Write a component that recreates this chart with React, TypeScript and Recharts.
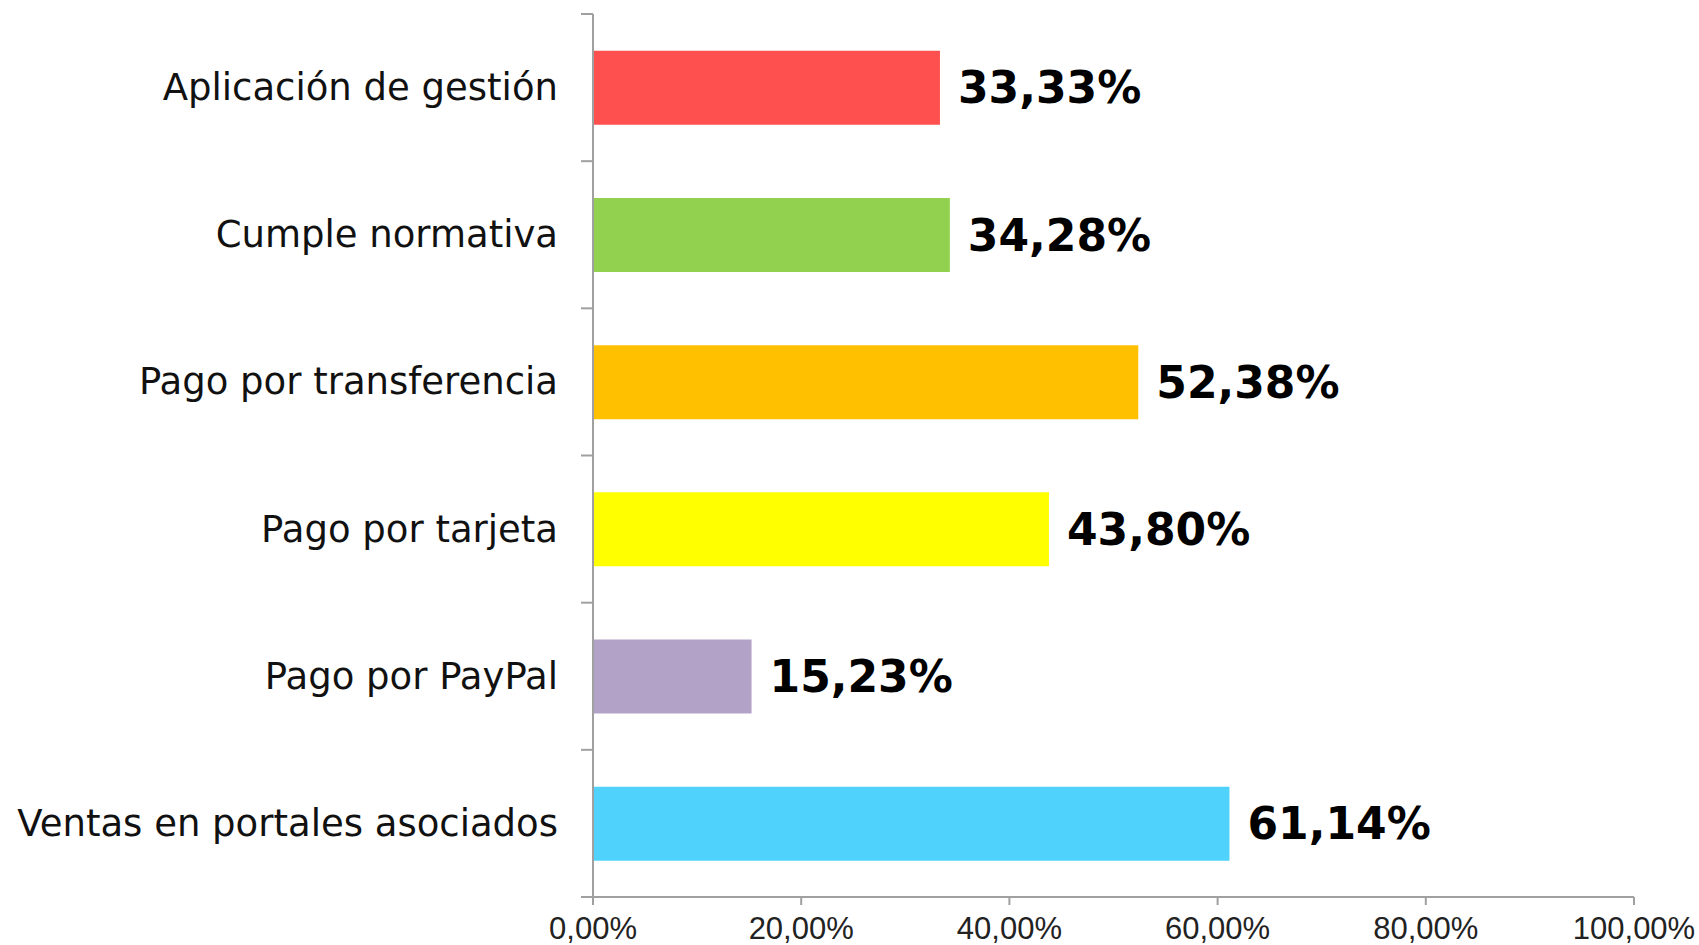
import { BarChart, Bar, XAxis, YAxis, Cell, LabelList } from "recharts";

const categories = [
  "Aplicación de gestión",
  "Cumple normativa",
  "Pago por transferencia",
  "Pago por tarjeta",
  "Pago por PayPal",
  "Ventas en portales asociados",
];
const values = [33.33, 34.28, 52.38, 43.8, 15.23, 61.14];
const colors = ["#FF5050", "#92D050", "#FFC000", "#FFFF00", "#B3A2C7", "#4FD3FC"];
const xTicks = [0, 20, 40, 60, 80, 100];

const data = categories.map((name, i) => ({ name, value: values[i] }));

const axisGray = "#A0A0A0";
const catMargin = 35;

// "33,33%" style
const pct = (v: number) => v.toFixed(2).replace(".", ",") + "%";

function XTick(props: any) {
  const { x, y, payload } = props;
  return (
    <text
      x={x}
      y={y + 21}
      textAnchor="middle"
      dominantBaseline="central"
      fontFamily="'Liberation Sans', Arial, sans-serif"
      fontSize={31}
      fill="#222"
    >
      {pct(payload.value)}
    </text>
  );
}

// category label + Excel-style tick marks between categories
function CatTick(props: any) {
  const { x, y, payload, index, visibleTicksCount, height } = props;
  const band = height && visibleTicksCount ? height / visibleTicksCount : 147;
  const ax = x + catMargin;
  return (
    <g>
      <line x1={ax - 12} x2={ax} y1={y - band / 2} y2={y - band / 2} stroke={axisGray} strokeWidth={2} />
      {index === visibleTicksCount - 1 && (
        <line x1={ax - 12} x2={ax} y1={y + band / 2} y2={y + band / 2} stroke={axisGray} strokeWidth={2} />
      )}
      <text
        x={x}
        y={y}
        textAnchor="end"
        dominantBaseline="central"
        fontFamily="'DejaVu Sans', Verdana, sans-serif"
        fontSize={37}
        fill="#111"
      >
        {payload.value}
      </text>
    </g>
  );
}

export default function App() {
  return (
    <div style={{ position: "absolute", left: 0, top: 0, background: "#fff" }}>
      <BarChart
        width={1699}
        height={945}
        data={data}
        layout="vertical"
        barCategoryGap="25%"
        margin={{ top: 14, right: 65, bottom: 0, left: 0 }}
      >
        <XAxis
          type="number"
          domain={[0, 100]}
          ticks={xTicks}
          height={48}
          tickSize={8}
          tick={<XTick />}
          axisLine={{ stroke: axisGray, strokeWidth: 2 }}
          tickLine={{ stroke: axisGray, strokeWidth: 2 }}
        />
        <YAxis
          type="category"
          dataKey="name"
          width={593}
          tickSize={0}
          tickMargin={catMargin}
          axisLine={{ stroke: axisGray, strokeWidth: 2 }}
          tickLine={false}
          tick={<CatTick />}
        />
        <Bar dataKey="value" isAnimationActive={false}>
          {data.map((d, i) => (
            <Cell key={d.name} fill={colors[i]} />
          ))}
          <LabelList
            dataKey="value"
            position="right"
            offset={18}
            formatter={(v: any) => pct(Number(v))}
            fontFamily="'DejaVu Sans', Verdana, sans-serif"
            fontWeight="bold"
            fontSize={44}
            fill="#000"
          />
        </Bar>
      </BarChart>
    </div>
  );
}
